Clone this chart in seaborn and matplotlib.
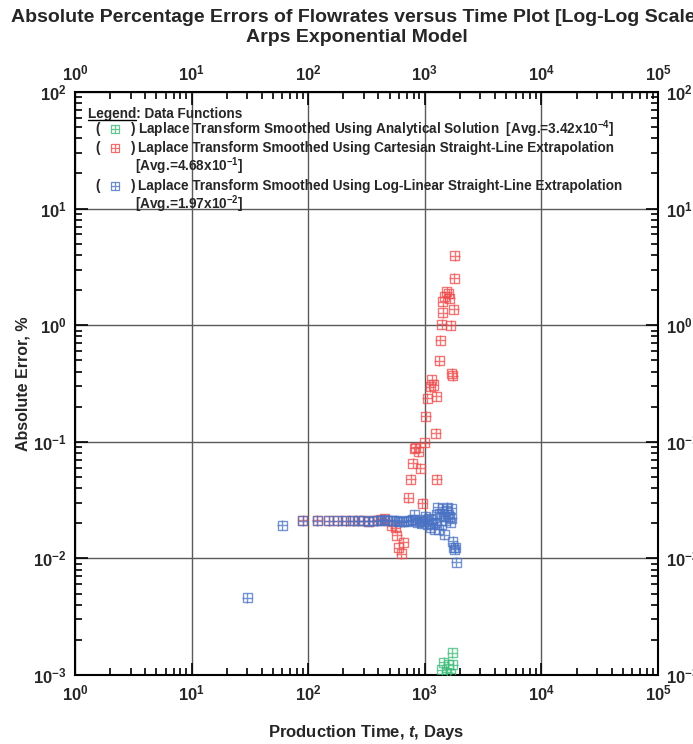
import numpy as np
import pandas as pd
import matplotlib
matplotlib.use("Agg")
import matplotlib.pyplot as plt
import seaborn as sns
from matplotlib.ticker import LogLocator, FuncFormatter, NullFormatter
from matplotlib.lines import Line2D

# ---------------- data ----------------
blue_t = [30, 60, 90, 120, 150, 180, 210, 240, 270, 300, 330, 360, 390, 420, 450,
          480, 510, 540, 570, 600, 630, 660, 690, 720, 750, 780, 810, 840, 870, 900,
          930, 960, 990, 1020, 1050, 1080, 1110, 1140, 1170, 1200, 1230, 1260, 1290,
          1320, 1350, 1380, 1410, 1440, 1470, 1500, 1530, 1560, 1590, 1620, 1650,
          1680, 1710, 1740, 1770, 1800, 1830, 1860]
blue_err = [0.0046, 0.0193, 0.0210, 0.0210, 0.0210, 0.0210, 0.0210, 0.0211, 0.0210,
            0.0210, 0.0209, 0.0210, 0.0211, 0.0212, 0.0214, 0.0213, 0.0211, 0.0210,
            0.0212, 0.0208, 0.0206, 0.0207, 0.0210, 0.0209, 0.0212, 0.0214, 0.0236,
            0.0212, 0.0205, 0.0207, 0.0200, 0.0215, 0.0208, 0.0230, 0.0195, 0.0222,
            0.0183, 0.0215, 0.0200, 0.0177, 0.0205, 0.0240, 0.0275, 0.0177, 0.0245,
            0.0195, 0.0266, 0.0230, 0.0159, 0.0210, 0.0260, 0.0275, 0.0238, 0.0228,
            0.0205, 0.0270, 0.0222, 0.0140, 0.0125, 0.0120, 0.0123, 0.0093]

red_t = [90, 120, 150, 180, 210, 240, 270, 300, 330, 360, 390, 420, 450, 480, 520,
         560, 574, 600, 630, 656, 720, 760, 790, 820, 840, 880, 910, 950, 995, 1020,
         1050, 1110, 1145, 1180, 1240, 1250, 1265, 1325, 1355, 1400, 1420, 1430, 1480,
         1540, 1600, 1630, 1675, 1702, 1730, 1770, 1790, 1815]
red_err = [0.0213, 0.0212, 0.0211, 0.0211, 0.0211, 0.0211, 0.0211, 0.0210, 0.0209,
           0.0211, 0.0213, 0.0216, 0.0218, 0.0212, 0.0190, 0.0183, 0.0158, 0.0124,
           0.0110, 0.0137, 0.0330, 0.0476, 0.0655, 0.088, 0.0897, 0.082, 0.0593,
           0.0297, 0.098, 0.166, 0.236, 0.297, 0.339, 0.307, 0.118, 0.247, 0.0476,
           0.497, 0.746, 1.02, 1.28, 1.59, 1.75, 1.94, 1.87, 1.70, 1.00, 0.387, 0.37,
           1.37, 2.52, 3.93]

green_t = [1398, 1461, 1545, 1585, 1650, 1722, 1740]
green_err = [0.00111, 0.00128, 0.00106, 0.00124, 0.00104, 0.00155, 0.00122]

series_names = ["Laplace Transform Smoothed Using Analytical Solution",
                "Laplace Transform Smoothed Using Cartesian Straight-Line Extrapolation",
                "Laplace Transform Smoothed Using Log-Linear Straight-Line Extrapolation"]
series_avg = ["3.42x10$^{-4}$", "4.68x10$^{-1}$", "1.97x10$^{-2}$"]
title_lines = ["Absolute Percentage Errors of Flowrates versus Time Plot [Log-Log Scale]",
               "Arps Exponential Model"]

GREEN = "#3dbb78"
RED = "#ee4b4b"
BLUE = "#4a72c4"

# ---------------- style ----------------
sns.set_theme(style="white")
plt.rcParams["font.family"] = ["Liberation Sans", "DejaVu Sans"]
plt.rcParams["font.weight"] = "bold"
plt.rcParams["mathtext.fontset"] = "custom"
plt.rcParams["mathtext.rm"] = "Liberation Sans:bold"
plt.rcParams["mathtext.bf"] = "Liberation Sans:bold"
plt.rcParams["mathtext.it"] = "Liberation Sans:bold:italic"
plt.rcParams["mathtext.default"] = "bf"

fig = plt.figure(figsize=(6.93, 7.44), dpi=100)
ax = fig.add_axes([75 / 693, 1 - 675 / 744, 583 / 693, 583 / 744])
ax.set_xscale("log")
ax.set_yscale("log")

ax.grid(True, which="major", color="#5a5a5a", linewidth=1.0)
ax.set_axisbelow(True)

MS = 42


def draw(t, e, c):
    df = pd.DataFrame({"t": t, "e": e})
    sns.scatterplot(data=df, x="t", y="e", marker="s", s=MS, facecolor="none",
                    edgecolor=c, linewidth=1.0, alpha=0.75, ax=ax, zorder=3)
    sns.scatterplot(data=df, x="t", y="e", marker="+", s=MS, color=c,
                    linewidth=1.0, alpha=0.75, ax=ax, zorder=3)


draw(red_t, red_err, RED)
draw(blue_t, blue_err, BLUE)
draw(green_t, green_err, GREEN)

ax.set_xlim(1, 1e5)
ax.set_ylim(1e-3, 1e2)

fmt = FuncFormatter(lambda v, p: r"$\mathbf{10^{%d}}$" % int(round(np.log10(v))))
for axis in (ax.xaxis, ax.yaxis):
    axis.set_major_locator(LogLocator(base=10, numticks=10))
    axis.set_minor_locator(LogLocator(base=10, subs=np.arange(2, 10), numticks=20))
    axis.set_major_formatter(fmt)
    axis.set_minor_formatter(NullFormatter())

ax.tick_params(which="both", direction="in", top=True, right=True, bottom=True, left=True,
               labeltop=True, labelright=True, color="black", width=1.2)
ax.tick_params(which="major", length=9, labelsize=12, pad=6)
ax.tick_params(which="minor", length=5)
for sp in ax.spines.values():
    sp.set_color("black")
    sp.set_linewidth(1.5)

ax.set_xlabel(r"Production Time, $\mathit{t}$, Days", fontsize=12, fontweight="bold", labelpad=14)
ax.set_ylabel("Absolute Error, %", fontsize=11.5, fontweight="bold", labelpad=2)

fig.text(357 / 693, 1 - 18 / 744, title_lines[0], ha="center", va="center",
         fontsize=14, fontweight="bold")
fig.text(357 / 693, 1 - 38 / 744, title_lines[1], ha="center", va="center",
         fontsize=14, fontweight="bold")

# ---------------- legend block ----------------
def fx(px):
    return (px - 75) / 583


def fy(py):
    return 1 - (py - 92) / 583


FS = 9.8
lt = ax.text(fx(88), fy(114), "Legend", fontsize=FS, fontweight="bold",
             ha="left", va="center", transform=ax.transAxes)
fig.canvas.draw()
bb = lt.get_window_extent(renderer=fig.canvas.get_renderer())
lt.remove()
ax.text(fx(88), fy(114), "Legend: Data Functions", fontsize=FS, fontweight="bold",
        ha="left", va="center", transform=ax.transAxes)
inv = fig.transFigure.inverted()
(x0, y0), (x1, y1) = inv.transform([(bb.x0, bb.y0 + 1), (bb.x1, bb.y0 + 1)])
fig.add_artist(Line2D([x0, x1], [y0, y0], color="black", linewidth=1.0))

rows = [129, 148, 186]
conts = [None, 166, 204]
colors = [GREEN, RED, BLUE]
for i in range(3):
    y = fy(rows[i])
    ax.text(fx(95), y, "(", fontsize=FS, fontweight="bold", ha="left", va="center",
            transform=ax.transAxes)
    ax.text(fx(131), y, ")", fontsize=FS, fontweight="bold", ha="left", va="center",
            transform=ax.transAxes)
    for m in ("s", "+"):
        ax.scatter([fx(115)], [y], marker=m, s=38, transform=ax.transAxes,
                   facecolor="none" if m == "s" else colors[i],
                   edgecolor=colors[i], linewidth=0.9, alpha=0.8, zorder=4)
    if conts[i] is None:
        ax.text(fx(138), y, series_names[i] + "  [Avg.=" + series_avg[i] + "]",
                fontsize=FS, fontweight="bold", ha="left", va="center",
                transform=ax.transAxes)
    else:
        ax.text(fx(138), y, series_names[i], fontsize=FS, fontweight="bold",
                ha="left", va="center", transform=ax.transAxes)
        ax.text(fx(135), fy(conts[i]), "[Avg.=" + series_avg[i] + "]", fontsize=FS,
                fontweight="bold", ha="left", va="center", transform=ax.transAxes)

fig.savefig("out.png", dpi=100)
